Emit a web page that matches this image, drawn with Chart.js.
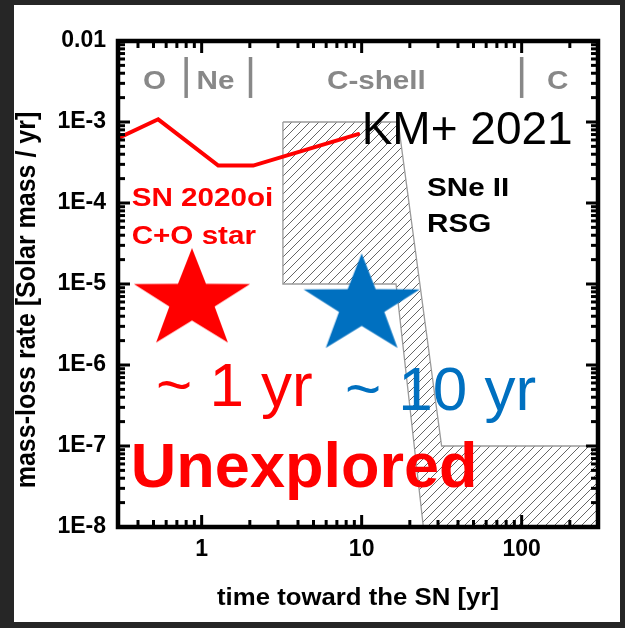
<!DOCTYPE html>
<html>
<head>
<meta charset="utf-8">
<script src="https://cdn.jsdelivr.net/npm/chart.js@4.4.1/dist/chart.umd.min.js"></script>
<style>
  html, body { margin: 0; padding: 0; background: #262626; overflow: hidden; }
  canvas { display: block; }
</style>
</head>
<body>
<canvas id="c" width="625" height="628"></canvas>
<script>
// Mass-loss history of SN 2020oi (time before explosion in yr, rate in Msun/yr)
const lineYears = [0.3, 0.535, 1.27, 2.1, 9.5];
const lineRates = [6.3e-4, 1.08e-3, 2.9e-4, 2.9e-4, 7.1e-4];

// Region occupied by type II SNe with RSG progenitors (closed outline)
const rsgYears = [3.22, 16.9, 31.6, 300, 300, 24.3, 16.4, 3.22, 3.22];
const rsgRates = [1e-3, 1e-3, 1e-7, 1e-7, 1e-8, 1e-8, 1e-5, 1e-5, 1e-3];

// Star markers
const starYears = [0.87, 10];
const starRates = [6.3e-6, 5.4e-6];
const starColors = ['#ff0000', '#0070c0'];

// Axis ticks
const xTickValues = [1, 10, 100];
const xTickLabels = ['1', '10', '100'];
const yTickValues = [1e-8, 1e-7, 1e-6, 1e-5, 1e-4, 1e-3, 1e-2];
const yTickLabels = ['1E-8', '1E-7', '1E-6', '1E-5', '1E-4', '1E-3', '0.01'];

// Burning stages along the top
const stageNames = ['O', 'Ne', 'C-shell', 'C'];
const stageStarts = [0.43, 0.93, 6.07, 144];
const stageBounds = [0.8, 2.02, 100];

const FAMILY = "'Liberation Sans', Arial, Helvetica, sans-serif";
const RED = '#ff0000';
const BLUE = '#0070c0';
const GREY = '#888888';

// Text notes placed in data coordinates
const notes = [
  { text: 'SN 2020oi', x: 0.365, y: 9.06e-5, font: 'bold 26px', color: RED, sx: 1.14 },
  { text: 'C+O star', x: 0.365, y: 3.14e-5, font: 'bold 26px', color: RED, sx: 1.14 },
  { text: 'SNe II', x: 25.6, y: 1.23e-4, font: 'bold 26px', color: '#000', sx: 1.14 },
  { text: 'RSG', x: 25.6, y: 4.33e-5, font: 'bold 26px', color: '#000', sx: 1.14 },
  { text: 'KM+ 2021', x: 10.0, y: 5.3e-4, font: '46px', color: '#000', sx: 1 },
  { text: '~ 1 yr', x: 0.518, y: 3.1e-7, font: '62px', color: RED, sx: 1 },
  { text: '~ 10 yr', x: 7.86, y: 2.82e-7, font: '62px', color: BLUE, sx: 1 },
  { text: 'Unexplored', x: 0.361, y: 3.08e-8, font: 'bold 63px', color: RED, sx: 1 }
];

function pairs(xs, ys) { return xs.map((v, i) => ({ x: v, y: ys[i] })); }

function makeStar(color) {
  const R = 52.2, r = R * 0.39, sx = 1.17;
  const w = 2 * Math.ceil(R * 0.951 * sx + 2), h = 2 * Math.ceil(R + 2);
  const c = document.createElement('canvas');
  c.width = w; c.height = h;
  const g = c.getContext('2d');
  g.translate(w / 2, h / 2);
  g.scale(sx, 1);
  g.beginPath();
  for (let i = 0; i < 10; i++) {
    const rad = i % 2 ? r : R;
    const a = -Math.PI / 2 + i * Math.PI / 5;
    g.lineTo(rad * Math.cos(a), rad * Math.sin(a));
  }
  g.closePath();
  g.fillStyle = color;
  g.fill();
  return c;
}

function makeHatch() {
  const s = 9;
  const c = document.createElement('canvas');
  c.width = s; c.height = s;
  const g = c.getContext('2d');
  g.strokeStyle = '#333333';
  g.lineWidth = 0.75;
  g.beginPath();
  g.moveTo(0, s); g.lineTo(s, 0);
  g.moveTo(-s / 2, s / 2); g.lineTo(s / 2, -s / 2);
  g.moveTo(s / 2, s * 1.5); g.lineTo(s * 1.5, s / 2);
  g.stroke();
  return g.createPattern(c, 'repeat');
}

function tickLabel(values, labels) {
  return (v) => {
    const i = values.findIndex(t => Math.abs(t - v) <= t * 1e-6);
    return i >= 0 ? labels[i] : '';
  };
}

const framePlugin = {
  id: 'frame',
  beforeDraw(chart) {
    const ctx = chart.ctx;
    ctx.save();
    ctx.fillStyle = '#262626';
    ctx.fillRect(0, 0, chart.width, chart.height);
    ctx.fillStyle = '#ffffff';
    ctx.fillRect(14, 5, 606, 617);
    ctx.restore();
  },
  afterDatasetsDraw(chart) {
    const { ctx, chartArea: a, scales: { x, y } } = chart;
    ctx.save();
    // Inward tick marks on all four sides
    ctx.strokeStyle = '#000';
    ctx.lineWidth = 3;
    const seg = (x1, y1, x2, y2) => { ctx.beginPath(); ctx.moveTo(x1, y1); ctx.lineTo(x2, y2); ctx.stroke(); };
    const major = 12, minor = 7;
    for (let e = -1; e <= 2; e++) {
      for (let m = 1; m <= 9; m++) {
        const v = m * Math.pow(10, e);
        if (v <= x.min * 1.0001 || v >= x.max * 0.9999) continue;
        const px = x.getPixelForValue(v);
        const L = m === 1 ? major : minor;
        seg(px, a.bottom, px, a.bottom - L);
        seg(px, a.top, px, a.top + L);
      }
    }
    for (let e = -8; e <= -3; e++) {
      for (let m = 1; m <= 9; m++) {
        const v = m * Math.pow(10, e);
        if (v <= y.min * 1.0001 || v >= y.max * 0.9999) continue;
        const py = y.getPixelForValue(v);
        const L = m === 1 ? major : minor;
        seg(a.left, py, a.left + L, py);
        seg(a.right, py, a.right - L, py);
      }
    }
    // Plot frame
    ctx.lineWidth = 4.5;
    ctx.strokeRect(a.left, a.top, a.right - a.left, a.bottom - a.top);

    // Burning stage boundaries and names
    ctx.strokeStyle = GREY;
    ctx.lineWidth = 3.5;
    stageBounds.forEach(b => {
      const px = x.getPixelForValue(b);
      seg(px, y.getPixelForValue(6.35e-3), px, y.getPixelForValue(1.98e-3));
    });
    const draw = (text, px, py, font, color, sx) => {
      ctx.save();
      ctx.translate(px, py);
      ctx.scale(sx, 1);
      ctx.font = font + ' ' + FAMILY;
      ctx.fillStyle = color;
      ctx.textAlign = 'left';
      ctx.textBaseline = 'alphabetic';
      ctx.fillText(text, 0, 0);
      ctx.restore();
    };
    stageNames.forEach((n, i) => {
      draw(n, x.getPixelForValue(stageStarts[i]), y.getPixelForValue(2.56e-3), 'bold 26px', GREY, 1.14);
    });
    notes.forEach(n => {
      draw(n.text, x.getPixelForValue(n.x), y.getPixelForValue(n.y), n.font, n.color, n.sx);
    });

    // Axis titles
    ctx.fillStyle = '#000';
    ctx.font = 'bold 23px ' + FAMILY;
    ctx.textAlign = 'center';
    ctx.textBaseline = 'alphabetic';
    ctx.save();
    ctx.translate((a.left + a.right) / 2, 605);
    ctx.scale(1.12, 1);
    ctx.fillText('time toward the SN [yr]', 0, 0);
    ctx.restore();
    ctx.save();
    ctx.font = 'bold 25px ' + FAMILY;
    ctx.translate(35, (a.top + a.bottom) / 2 + 16);
    ctx.scale(1.14, 1);
    ctx.rotate(-Math.PI / 2);
    ctx.fillText('mass-loss rate [Solar mass / yr]', 0, 0);
    ctx.restore();
    ctx.restore();
  }
};

const tickFont = { family: FAMILY, size: 23, weight: 'bold' };

new Chart(document.getElementById('c'), {
  type: 'line',
  data: {
    datasets: [
      {
        label: 'stars',
        data: pairs(starYears, starRates),
        showLine: false,
        pointStyle: starColors.map(makeStar),
        pointRadius: 50,
        pointHoverRadius: 50
      },
      {
        label: 'SN 2020oi',
        data: pairs(lineYears, lineRates),
        borderColor: RED,
        borderWidth: 4,
        borderCapStyle: 'round',
        borderJoinStyle: 'miter',
        pointRadius: 0,
        tension: 0,
        fill: false
      },
      {
        label: 'RSG',
        data: pairs(rsgYears, rsgRates),
        borderColor: '#9a9a9a',
        borderWidth: 1.3,
        backgroundColor: makeHatch(),
        pointRadius: 0,
        tension: 0,
        fill: 'shape'
      }
    ]
  },
  options: {
    responsive: false,
    animation: false,
    events: [],
    layout: { autoPadding: false, padding: { top: 41, right: 27, bottom: 0, left: 0 } },
    plugins: { legend: { display: false }, tooltip: { enabled: false } },
    scales: {
      x: {
        type: 'logarithmic',
        min: 0.3,
        max: 300,
        afterBuildTicks: s => { s.ticks = xTickValues.map(v => ({ value: v })); },
        afterFit: s => { s.height = 101; },
        ticks: {
          callback: tickLabel(xTickValues, xTickLabels),
          font: tickFont,
          color: '#000',
          padding: 9,
          maxRotation: 0,
          autoSkip: false
        },
        grid: { display: false, drawTicks: false },
        border: { display: false }
      },
      y: {
        type: 'logarithmic',
        min: 1e-8,
        max: 1e-2,
        afterBuildTicks: s => { s.ticks = yTickValues.map(v => ({ value: v })); },
        afterFit: s => { s.width = 118; },
        ticks: {
          callback: tickLabel(yTickValues, yTickLabels),
          font: tickFont,
          color: '#000',
          padding: 12,
          autoSkip: false
        },
        grid: { display: false, drawTicks: false },
        border: { display: false }
      }
    }
  },
  plugins: [framePlugin]
});
</script>
</body>
</html>
